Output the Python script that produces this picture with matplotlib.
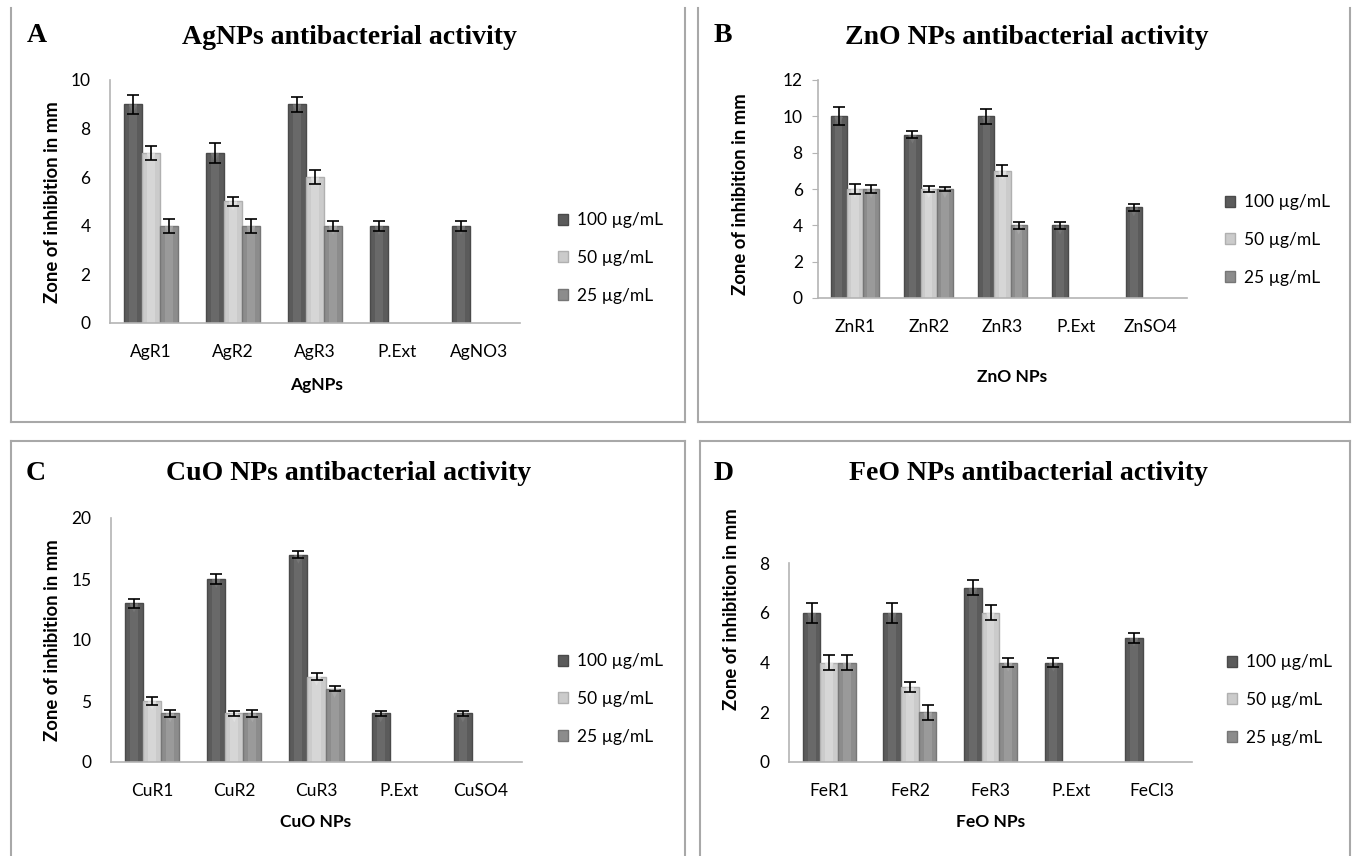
import numpy as np
import matplotlib.pyplot as plt
from matplotlib.lines import Line2D
from matplotlib.transforms import ScaledTranslation

W, H = 1354, 856

series = ["100 µg/mL", "50 µg/mL", "25 µg/mL"]

# panel A - AgNPs
ag_cats = ["AgR1", "AgR2", "AgR3", "P.Ext", "AgNO3"]
ag_100 = [9, 7, 9, 4, 4]
ag_50 = [7, 5, 6, np.nan, np.nan]
ag_25 = [4, 4, 4, np.nan, np.nan]
ag_err_100 = [0.4, 0.4, 0.3, 0.2, 0.2]
ag_err_50 = [0.3, 0.2, 0.3, np.nan, np.nan]
ag_err_25 = [0.3, 0.3, 0.2, np.nan, np.nan]

# panel B - ZnO NPs
zn_cats = ["ZnR1", "ZnR2", "ZnR3", "P.Ext", "ZnSO4"]
zn_100 = [10, 9, 10, 4, 5]
zn_50 = [6, 6, 7, np.nan, np.nan]
zn_25 = [6, 6, 4, np.nan, np.nan]
zn_err_100 = [0.5, 0.2, 0.4, 0.2, 0.2]
zn_err_50 = [0.3, 0.15, 0.3, np.nan, np.nan]
zn_err_25 = [0.2, 0.1, 0.2, np.nan, np.nan]

# panel C - CuO NPs
cu_cats = ["CuR1", "CuR2", "CuR3", "P.Ext", "CuSO4"]
cu_100 = [13, 15, 17, 4, 4]
cu_50 = [5, 4, 7, np.nan, np.nan]
cu_25 = [4, 4, 6, np.nan, np.nan]
cu_err_100 = [0.4, 0.4, 0.3, 0.2, 0.2]
cu_err_50 = [0.3, 0.2, 0.3, np.nan, np.nan]
cu_err_25 = [0.3, 0.3, 0.2, np.nan, np.nan]

# panel D - FeO NPs
fe_cats = ["FeR1", "FeR2", "FeR3", "P.Ext", "FeCl3"]
fe_100 = [6, 6, 7, 4, 5]
fe_50 = [4, 3, 6, np.nan, np.nan]
fe_25 = [4, 2, 4, np.nan, np.nan]
fe_err_100 = [0.4, 0.4, 0.3, 0.2, 0.2]
fe_err_50 = [0.3, 0.2, 0.3, np.nan, np.nan]
fe_err_25 = [0.3, 0.3, 0.2, np.nan, np.nan]

colors = ["#5b5b5b", "#cbcbcb", "#8c8c8c"]
edges = ["#4a4a4a", "#b0b0b0", "#767676"]
shine = ["#767676", "#e0e0e0", "#a6a6a6"]

SANS = ["Lato", "DejaVu Sans"]
SERIF = ["Liberation Serif", "DejaVu Serif"]

fig = plt.figure(figsize=(W / 100, H / 100), dpi=100)


def px_box(x0, y0, x1, y1):
    return [x0 / W, 1 - y1 / H, (x1 - x0) / W, (y1 - y0) / H]


def fx(x):
    return x / W


def fy(y):
    return 1 - y / H


def panel(box, letter, title, cats, vals, errs, ymax, ystep, xlabel,
          title_pos, letter_pos, ylab_pos, xlab_pos, leg_pos, ticks=False):
    ax = fig.add_axes(px_box(*box))
    x = np.arange(len(cats))
    w = 0.22
    tri = ax.transData + ScaledTranslation(0, -3.5 / 72, fig.dpi_scale_trans)
    for i, (v, e) in enumerate(zip(vals, errs)):
        pos = x + (i - 1) * w
        ax.bar(pos, v, w, color=colors[i], edgecolor=edges[i], linewidth=1,
               label=series[i], zorder=2)
        ax.bar(pos, v, w * 0.45, color=shine[i], linewidth=0, alpha=0.55, zorder=2)
        ax.scatter(pos, v, marker="v", s=38, color=shine[i], edgecolors="none",
                   transform=tri, zorder=3)
        ax.errorbar(pos, v, yerr=e, fmt="none", ecolor="black", elinewidth=1.2,
                    capsize=4, capthick=1.2, zorder=4)
    ax.set_xlim(-0.5, len(cats) - 0.5)
    ax.set_ylim(0, ymax)
    ax.set_yticks(np.arange(0, ymax + 0.1, ystep))
    ax.set_xticks(x)
    ax.set_xticklabels(cats, family=SANS, fontsize=12.5)
    for lab in ax.get_yticklabels():
        lab.set_family(SANS)
        lab.set_fontsize(12.5)
    for s in ["top", "right"]:
        ax.spines[s].set_visible(False)
    for s in ["left", "bottom"]:
        ax.spines[s].set_color("#b4b4b4")
        ax.spines[s].set_linewidth(1.2)
    ax.tick_params(axis="x", length=0, pad=15)
    ax.tick_params(axis="y", length=4 if ticks else 0, color="#b4b4b4",
                   pad=7 if ticks else 14)
    ax.set_facecolor("none")

    fig.text(fx(letter_pos[0]), fy(letter_pos[1]), letter, family=SERIF,
             fontweight="bold", fontsize=20, ha="left", va="center")
    fig.text(fx(title_pos[0]), fy(title_pos[1]), title, family=SERIF,
             fontweight="bold", fontsize=20, ha="center", va="center")
    fig.text(fx(ylab_pos[0]), fy(ylab_pos[1]), "Zone of inhibition in mm",
             family=SANS, fontweight="bold", fontsize=13.3, rotation=90,
             ha="center", va="center")
    fig.text(fx(xlab_pos[0]), fy(xlab_pos[1]), xlabel, family=SANS,
             fontweight="bold", fontsize=12.5, ha="center", va="center")
    h, l = ax.get_legend_handles_labels()
    ax.legend(h[:3], l[:3], loc="center left",
              bbox_to_anchor=(fx(leg_pos[0]), fy(leg_pos[1])),
              bbox_transform=fig.transFigure, frameon=False,
              prop={"family": SANS, "size": 12.5},
              handlelength=0.6, handleheight=0.6, handletextpad=0.5,
              labelspacing=1.25, borderaxespad=0, borderpad=0)
    return ax


# panel frames (top edge of the upper two is cut off in the source)
frame = dict(color="#a8a8a8", linewidth=1.5, transform=fig.transFigure)
for (x0, y0, x1, y1, top) in [(11, 8, 685, 422, False), (698, 8, 1350, 422, False),
                              (11, 441, 685, 870, True), (700, 441, 1350, 870, True)]:
    fig.add_artist(Line2D([fx(x0), fx(x0)], [fy(y0), fy(y1)], **frame))
    fig.add_artist(Line2D([fx(x1), fx(x1)], [fy(y0), fy(y1)], **frame))
    fig.add_artist(Line2D([fx(x0), fx(x1)], [fy(y1), fy(y1)], **frame))
    if top:
        fig.add_artist(Line2D([fx(x0), fx(x1)], [fy(y0), fy(y0)], **frame))

panel((110, 80, 520, 323), "A", "AgNPs antibacterial activity", ag_cats,
      [ag_100, ag_50, ag_25], [ag_err_100, ag_err_50, ag_err_25], 10, 2, "AgNPs",
      (349, 37), (27, 35), (53, 202), (317, 385), (558, 258))

panel((818, 80, 1187, 298), "B", "ZnO NPs antibacterial activity", zn_cats,
      [zn_100, zn_50, zn_25], [zn_err_100, zn_err_50, zn_err_25], 12, 2, "ZnO NPs",
      (1027, 37), (714, 35), (741, 194), (1012, 377), (1225, 240), ticks=True)

panel((111, 518, 522, 762), "C", "CuO NPs antibacterial activity", cu_cats,
      [cu_100, cu_50, cu_25], [cu_err_100, cu_err_50, cu_err_25], 20, 5, "CuO NPs",
      (349, 474), (26, 473), (53, 640), (316, 822), (558, 699))

panel((789, 563, 1192, 762), "D", "FeO NPs antibacterial activity", fe_cats,
      [fe_100, fe_50, fe_25], [fe_err_100, fe_err_50, fe_err_25], 8, 2, "FeO NPs",
      (1028, 474), (714, 473), (732, 609), (991, 822), (1227, 700))

fig.savefig("out.png", dpi=100)
